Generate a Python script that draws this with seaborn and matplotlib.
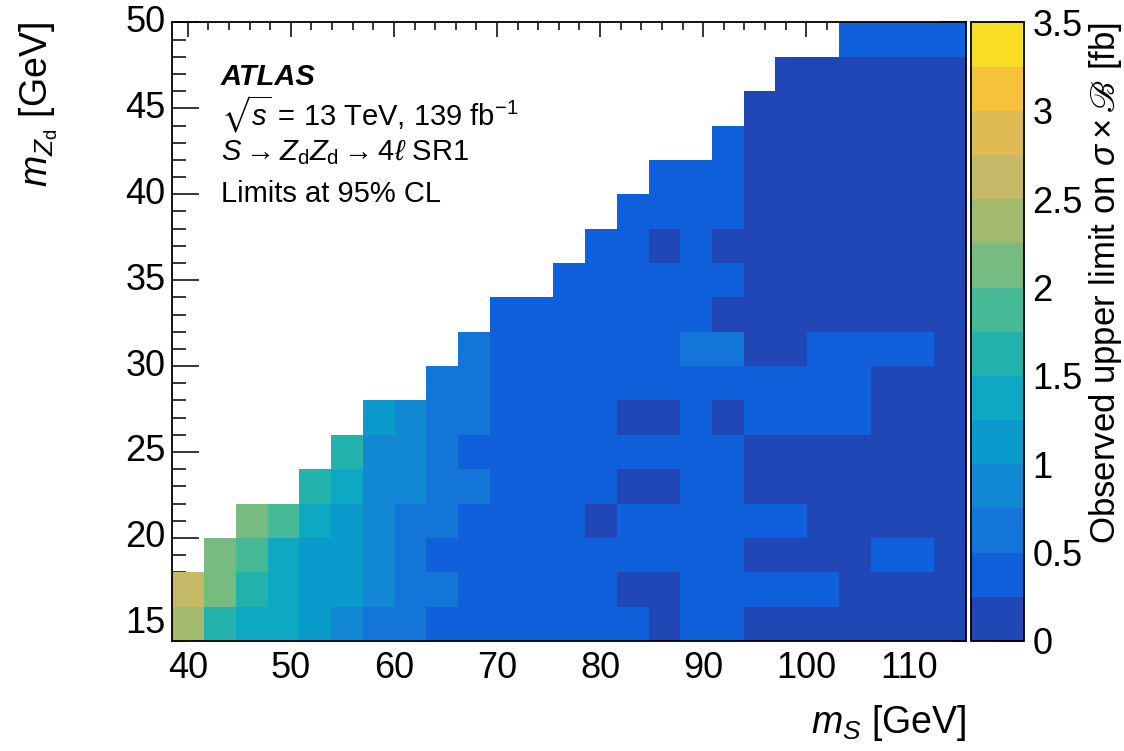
import numpy as np
import pandas as pd
import matplotlib
matplotlib.use("Agg")
import matplotlib.pyplot as plt
from matplotlib.colors import ListedColormap
import seaborn as sns

nan = np.nan

# scan binning (m_S columns, m_Zd rows)
ms_edges = np.linspace(38.5, 115.5, 26)
mzd_edges = np.arange(14, 51, 2)

# observed upper limit on sigma x B [fb], rows from m_Zd = 15 (bottom) to 49 (top)
limit = [
    [2.38, 1.62, 1.41, 1.35, 1.12, 0.88, 0.64, 0.58, 0.41, 0.36, 0.33, 0.35, 0.31,
     0.30, 0.27, 0.22, 0.29, 0.27, 0.21, 0.19, 0.18, 0.17, 0.15, 0.14, 0.13],
    [2.63, 2.14, 1.66, 1.39, 1.18, 1.05, 0.86, 0.68, 0.55, 0.44, 0.39, 0.36, 0.33,
     0.29, 0.23, 0.22, 0.31, 0.29, 0.28, 0.27, 0.26, 0.21, 0.19, 0.17, 0.16],
    [nan, 2.21, 1.93, 1.44, 1.22, 1.08, 0.84, 0.61, 0.48, 0.42, 0.38, 0.35, 0.33,
     0.31, 0.29, 0.28, 0.30, 0.27, 0.23, 0.22, 0.21, 0.24, 0.27, 0.26, 0.19],
    [nan, nan, 2.17, 1.84, 1.31, 1.12, 0.81, 0.66, 0.52, 0.46, 0.40, 0.36, 0.28,
     0.24, 0.31, 0.33, 0.30, 0.28, 0.27, 0.26, 0.23, 0.21, 0.20, 0.18, 0.17],
    [nan] * 4 + [1.68, 1.42, 0.92, 0.78, 0.62, 0.53, 0.45, 0.40, 0.36, 0.30, 0.24,
                 0.23, 0.29, 0.28, 0.22, 0.21, 0.20, 0.19, 0.18, 0.17, 0.16],
    [nan] * 5 + [1.71, 0.94, 0.82, 0.57, 0.47, 0.43, 0.39, 0.36, 0.33, 0.31, 0.30,
                 0.29, 0.27, 0.24, 0.22, 0.21, 0.20, 0.19, 0.18, 0.17],
    [nan] * 6 + [1.19, 0.91, 0.66, 0.55, 0.46, 0.41, 0.37, 0.33, 0.24, 0.23, 0.31,
                 0.24, 0.29, 0.28, 0.27, 0.26, 0.22, 0.20, 0.19],
    [nan] * 8 + [0.68, 0.56, 0.47, 0.42, 0.39, 0.36, 0.34, 0.32, 0.31, 0.30, 0.29,
                 0.28, 0.27, 0.26, 0.23, 0.21, 0.20],
    [nan] * 9 + [0.58, 0.46, 0.41, 0.38, 0.35, 0.33, 0.31, 0.52, 0.51, 0.24, 0.23,
                 0.28, 0.27, 0.26, 0.26, 0.22],
    [nan] * 10 + [0.47, 0.42, 0.38, 0.35, 0.33, 0.30, 0.28, 0.24, 0.23, 0.22, 0.21,
                  0.20, 0.19, 0.18, 0.17],
    [nan] * 12 + [0.40, 0.37, 0.34, 0.31, 0.29, 0.27, 0.24, 0.22, 0.21, 0.20, 0.19,
                  0.18, 0.17],
    [nan] * 13 + [0.36, 0.32, 0.24, 0.28, 0.23, 0.22, 0.21, 0.20, 0.19, 0.18, 0.17,
                  0.16],
    [nan] * 14 + [0.33, 0.30, 0.28, 0.26, 0.23, 0.22, 0.20, 0.19, 0.18, 0.17, 0.16],
    [nan] * 15 + [0.31, 0.29, 0.27, 0.23, 0.22, 0.20, 0.19, 0.18, 0.17, 0.16],
    [nan] * 17 + [0.27, 0.23, 0.21, 0.20, 0.19, 0.18, 0.17, 0.16],
    [nan] * 18 + [0.24, 0.22, 0.21, 0.19, 0.18, 0.17, 0.16],
    [nan] * 19 + [0.23, 0.21, 0.20, 0.19, 0.18, 0.17],
    [nan] * 21 + [0.30, 0.29, 0.28, 0.27],
]

ms_ticks = [40, 50, 60, 70, 80, 90, 100, 110]
ms_minor = [42, 44, 46, 48, 52, 54, 56, 58, 62, 64, 66, 68, 72, 74, 76, 78,
            82, 84, 86, 88, 92, 94, 96, 98, 102, 104, 106, 108, 112, 114]
mzd_ticks = [15, 20, 25, 30, 35, 40, 45, 50]
mzd_minor = list(range(14, 51))
z_ticks = [0, 0.5, 1, 1.5, 2, 2.5, 3, 3.5]
z_ticklabels = ["0", "0.5", "1", "1.5", "2", "2.5", "3", "3.5"]

# 14 palette bands, 0.25 fb each
band_colors = ["#2146b5", "#1060dc", "#1375d8", "#1288d4", "#0a9acc", "#0ca8c4",
               "#22b2ac", "#46b996", "#76bc80", "#a1ba6e", "#c5b968", "#e0bb55",
               "#f6c23a", "#f9dc24"]

sns.set_style("ticks")
plt.rcParams["font.family"] = ["Liberation Sans", "DejaVu Sans"]
plt.rcParams["mathtext.fontset"] = "custom"
plt.rcParams["mathtext.rm"] = "Liberation Sans"
plt.rcParams["mathtext.it"] = "Liberation Sans:italic"
plt.rcParams["mathtext.bf"] = "Liberation Sans:bold"
plt.rcParams["mathtext.fallback"] = "stix"
for key in ["text.color", "axes.labelcolor", "xtick.color", "ytick.color"]:
    plt.rcParams[key] = "black"

ms_centers = np.round((ms_edges[:-1] + ms_edges[1:]) / 2, 2)
mzd_centers = (mzd_edges[:-1] + mzd_edges[1:]) / 2
df = pd.DataFrame(limit, index=mzd_centers, columns=ms_centers)

fig = plt.figure(figsize=(11.24, 7.51), dpi=100)
ax = fig.add_axes([0.1533, 0.1465, 0.7061, 0.8236])
cax = fig.add_axes([0.8643, 0.1465, 0.0467, 0.8236])

sns.heatmap(df, ax=ax, cbar_ax=cax, cmap=ListedColormap(band_colors),
            vmin=0, vmax=3.5)
ax.invert_yaxis()

# map the physical values onto the heatmap cell axis
xcell = np.arange(len(ms_edges))
ycell = np.arange(len(mzd_edges))
ax.set_xticks(np.interp(ms_ticks, ms_edges, xcell),
              labels=[str(v) for v in ms_ticks], rotation=0)
ax.set_xticks(np.interp(ms_minor, ms_edges, xcell), minor=True)
ax.set_yticks(np.interp(mzd_ticks, mzd_edges, ycell),
              labels=[str(v) for v in mzd_ticks], rotation=0)
ax.set_yticks(np.interp(mzd_minor, mzd_edges, ycell), minor=True)

for s in ax.spines.values():
    s.set_visible(True)
    s.set_linewidth(1.3)
    s.set_color("black")

ax.tick_params(which="both", direction="in", top=True, right=True,
               width=1.1, color="black", labelcolor="black", labelsize=26)
ax.xaxis.set_tick_params(which="major", length=11, pad=7)
ax.xaxis.set_tick_params(which="minor", length=5.5)
ax.yaxis.set_tick_params(which="major", length=19.5, pad=5)
ax.yaxis.set_tick_params(which="minor", length=10)

ax.set_xlabel(r"$m_{S}$ [GeV]", fontsize=27, loc="right")
ax.xaxis.set_label_coords(1.0, -0.100)
ax.set_ylabel(r"$m_{Z_\mathrm{d}}$ [GeV]", fontsize=27, loc="top")
ax.yaxis.set_label_coords(-0.141, 1.0)

cbar = ax.collections[0].colorbar
cbar.set_ticks(z_ticks, labels=z_ticklabels)
cbar.ax.tick_params(direction="in", length=19, width=1.1, labelsize=26,
                    pad=6, color="black", labelcolor="black")
cbar.outline.set_linewidth(1.3)
cbar.outline.set_edgecolor("black")
cbar.set_label("Observed upper limit on $\\sigma\\times ℬ$ [fb]", fontsize=25,
               loc="top")
cbar.ax.yaxis.set_label_coords(2.2, 1.0)

tx = 0.061
ax.text(tx, 0.899, "ATLAS", transform=ax.transAxes, fontsize=21,
        fontweight="bold", fontstyle="italic", va="baseline")
ax.text(tx, 0.834, r"$\sqrt{s}$ = 13 TeV, 139 fb$^{-1}$", transform=ax.transAxes,
        fontsize=21, va="baseline")
ax.text(tx, 0.778, r"$S \rightarrow Z_\mathrm{d}Z_\mathrm{d} \rightarrow 4\ell$ SR1",
        transform=ax.transAxes, fontsize=21, va="baseline")
ax.text(tx, 0.710, "Limits at 95% CL", transform=ax.transAxes, fontsize=21,
        va="baseline")

fig.savefig("out.png", dpi=100)
